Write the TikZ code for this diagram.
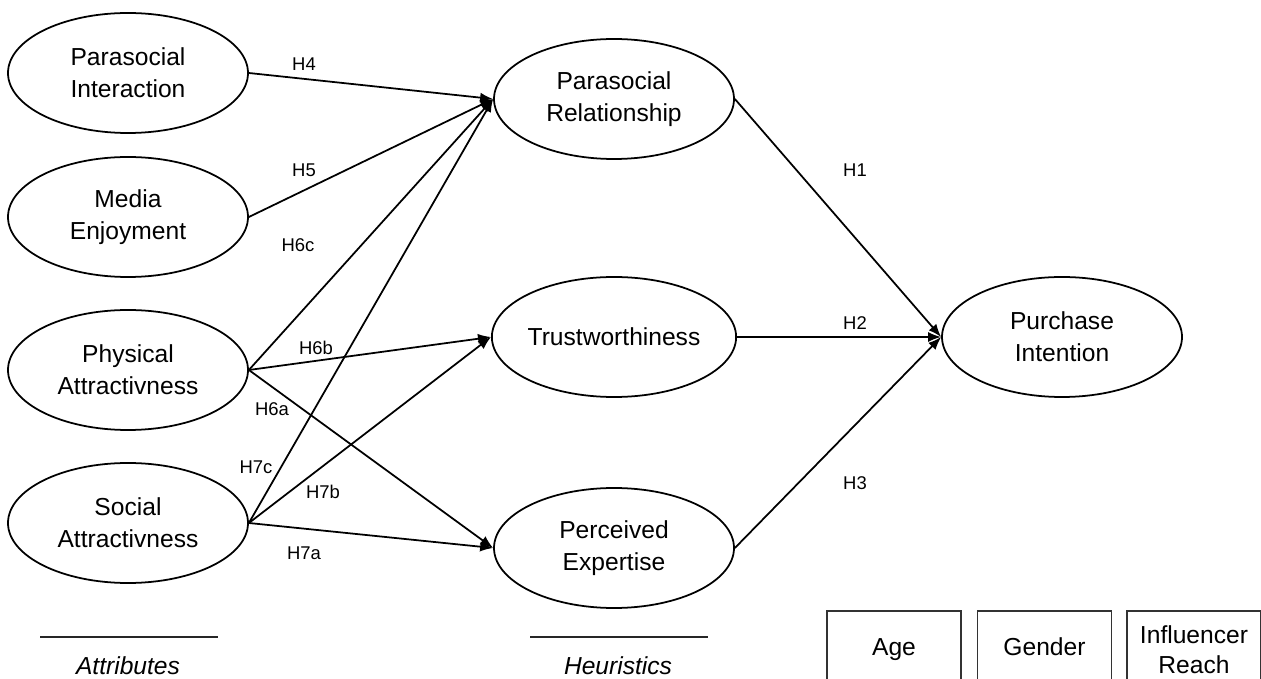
\documentclass[tikz,border=0pt]{standalone}
\usepackage{fontspec}
\setmainfont{Liberation Sans}
\usetikzlibrary{shapes.geometric,arrows.meta}
\tikzset{
	construct/.style={draw, ellipse, line width=1pt, minimum width=4.8cm, minimum height=2.4cm, inner sep=0pt, align=center, font=\fontsize{14}{18}\selectfont},
	hypo/.style={-{Latex[length=2.6mm,width=2mm]}, line width=1pt},
	hlabel/.style={inner sep=1pt, font=\fontsize{10.5}{12}\selectfont},
	controlbox/.style={draw=black!80, line width=0.6pt, minimum width=2.68cm, minimum height=1.54cm, inner sep=0pt, align=center, font=\fontsize{14}{17}\selectfont},
	grouplabel/.style={font=\fontsize{14}{17}\selectfont\itshape}
}

\begin{document}
\begin{tikzpicture}
		%%%%% START %%%%%
		\clip (0, 0) rectangle (25.22, 13.56);
		
		% attributes
		\node[construct] (pint) at (2.56, 12.1) {Parasocial\\Interaction};
		\node[construct] (menj) at (2.56, 9.22) {Media\\Enjoyment};
		\node[construct] (phys) at (2.56, 6.16) {Physical\\Attractivness};
		\node[construct] (soc) at (2.56, 3.10) {Social\\Attractivness};
		
		% heuristics
		\node[construct] (prel) at (12.28, 11.58) {Parasocial\\Relationship};
		\node[construct] (trust) at (12.28, 6.82) {Trustworthiness};
		\node[construct] (expert) at (12.28, 2.60) {Perceived\\Expertise};
		
		\node[construct] (purch) at (21.24, 6.82) {Purchase\\Intention};
		
		\draw[hypo] (pint.east) -- (prel.west);
		\draw[hypo] (menj.east) -- (prel.west);
		\draw[hypo] (phys.east) -- (prel.west);
		\draw[hypo] (phys.east) -- (trust.west);
		\draw[hypo] (phys.east) -- (expert.west);
		\draw[hypo] (soc.east) -- (prel.west);
		\draw[hypo] (soc.east) -- (trust.west);
		\draw[hypo] (soc.east) -- (expert.west);
		
		\draw[hypo] (prel.east) -- (purch.west);
		\draw[hypo] (trust.east) -- (purch.west);
		\draw[hypo] (expert.east) -- (purch.west);
		
		\node[hlabel] (h4) at (6.08, 12.28) {H4};
		\node[hlabel] (h5) at (6.08, 10.16) {H5};
		\node[hlabel] (h6c) at (5.96, 8.66) {H6c};
		\node[hlabel] (h6b) at (6.32, 6.60) {H6b};
		\node[hlabel] (h6a) at (5.44, 5.38) {H6a};
		\node[hlabel] (h7c) at (5.12, 4.22) {H7c};
		\node[hlabel] (h7b) at (6.46, 3.72) {H7b};
		\node[hlabel] (h7a) at (6.08, 2.50) {H7a};
		\node[hlabel] (h1) at (17.10, 10.16) {H1};
		\node[hlabel] (h2) at (17.10, 7.10) {H2};
		\node[hlabel] (h3) at (17.10, 3.90) {H3};
		
		% legend
		\draw[line width=1.1pt, color=black!85] (0.8, 0.82) -- (4.36, 0.82);
		\node[grouplabel] (attr) at (2.56, 0.24) {Attributes};
		\draw[line width=1.1pt, color=black!85] (10.6, 0.82) -- (14.16, 0.82);
		\node[grouplabel] (heur) at (12.36, 0.24) {Heuristics};
		
		% controls
		\node[controlbox] (age) at (17.88, 0.57) {\strut Age};
		\node[controlbox] (gender) at (20.89, 0.57) {\strut Gender};
		\node[controlbox] (reach) at (23.88, 0.57) {Influencer\\Reach};
		
		%%%%% END %%%%%
	\end{tikzpicture}
\end{document}
